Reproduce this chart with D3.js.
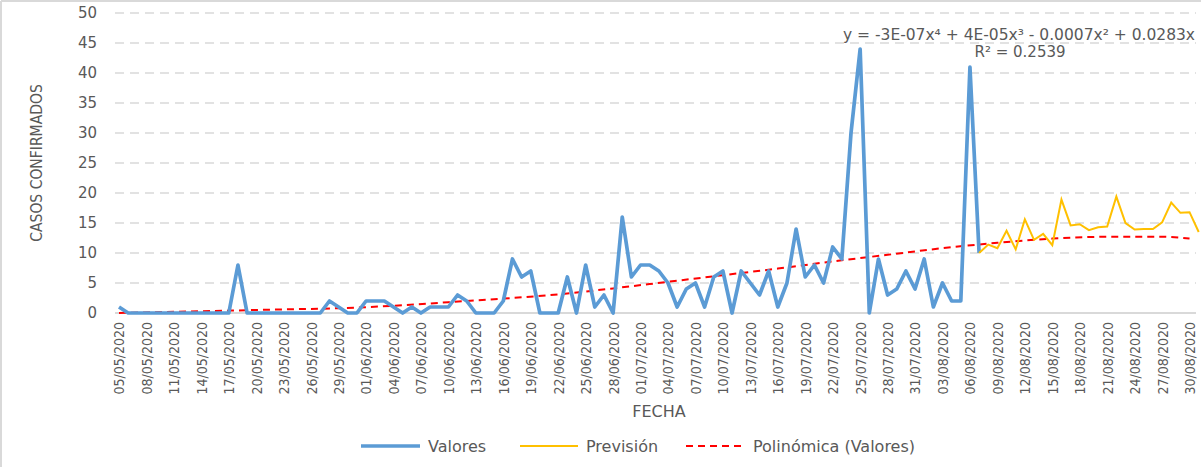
<!DOCTYPE html>
<html>
<head>
<meta charset="utf-8">
<script src="https://cdn.jsdelivr.net/npm/d3@7"></script>
<style>
body { margin: 0; background: #fff; }
text { font-family: "DejaVu Sans", sans-serif; fill: #595959; }
</style>
</head>
<body>
<svg id="chart" width="1201" height="467"></svg>
<script>
// categories: one per day, 05/05/2020 .. 31/08/2020
const fechas = d3.timeDay.range(new Date(2020, 4, 5), new Date(2020, 8, 1));

// casos confirmados, 05/05 .. 07/08
const valores = [
	1, 0, 0, 0, 0, 0, 0, 0, 0, 0, 0, 0, 0, 8, 0, 0, 0, 0, 0, 0,
	0, 0, 0, 2, 1, 0, 0, 2, 2, 2, 1, 0, 1, 0, 1, 1, 1, 3, 2, 0,
	0, 0, 2, 9, 6, 7, 0, 0, 0, 6, 0, 8, 1, 3, 0, 16, 6, 8, 8, 7,
	5, 1, 4, 5, 1, 6, 7, 0, 7, 5, 3, 7, 1, 5, 14, 6, 8, 5, 11, 9,
	30, 44, 0, 9, 3, 4, 7, 4, 9, 1, 5, 2, 2, 41, 10
];

// previsión, 07/08 .. 31/08
const prevision = [
	10, 11.4, 10.8, 13.7, 10.6, 15.6, 12.2, 13.2, 11.3, 18.9,
	14.6, 14.8, 13.8, 14.3, 14.4, 19.4, 15, 13.9, 14, 14,
	15.1, 18.4, 16.7, 16.8, 13.5
];
const inicioPrevision = 94;

// polinómica (valores) at these day indexes
const tendenciaDia = [0, 6, 12, 18, 24, 30, 36, 42, 48, 54, 60, 66, 72, 78, 84, 90, 96, 102, 108, 114, 117];
const tendencia = [0, 0.2, 0.4, 0.6, 0.8, 1.2, 1.8, 2.4, 3.1, 4.1, 5.2, 6.3, 7.4, 8.6, 9.7, 10.8, 11.7, 12.4, 12.7, 12.7, 12.4];

const yTicks = [0, 5, 10, 15, 20, 25, 30, 35, 40, 45, 50];
const ecuacion = "y = -3E-07x\u2074 + 4E-05x\u00b3 - 0.0007x\u00b2 + 0.0283x";
const r2 = "R\u00b2 = 0.2539";

const svg = d3.select("#chart");
const plotLeft = 115, plotRight = 1196;

const x = d3.scalePoint()
	.domain(d3.range(fechas.length))
	.range([119, 1198.7]);
const y = d3.scaleLinear().domain([0, 50]).range([313, 13]);

const fmt = d3.timeFormat("%d/%m/%Y");

// frame (only top and left edges are visible in the crop)
svg.append("line").attr("x1", 1).attr("x2", 1201).attr("y1", 1).attr("y2", 1)
	.attr("stroke", "#d9d9d9").attr("stroke-width", 2);
svg.append("line").attr("x1", 1).attr("x2", 1).attr("y1", 1).attr("y2", 467)
	.attr("stroke", "#d9d9d9").attr("stroke-width", 2);

// gridlines
svg.append("g")
	.selectAll("line")
	.data(yTicks.filter(d => d > 0))
	.join("line")
	.attr("x1", plotLeft).attr("x2", plotRight)
	.attr("y1", d => y(d)).attr("y2", d => y(d))
	.attr("stroke", "#d9d9d9")
	.attr("stroke-width", 1.3)
	.attr("stroke-dasharray", "9,6");

svg.append("line")
	.attr("x1", plotLeft).attr("x2", plotRight)
	.attr("y1", y(0)).attr("y2", y(0))
	.attr("stroke", "#d9d9d9").attr("stroke-width", 2);

// y axis
const yAxis = svg.append("g")
	.attr("transform", "translate(" + plotLeft + ",0)")
	.call(d3.axisLeft(y).tickValues(yTicks).tickSize(0).tickPadding(18));
yAxis.select(".domain").remove();
yAxis.selectAll("text")
	.style("font-family", "DejaVu Sans, sans-serif")
	.style("font-size", "15px")
	.attr("fill", "#595959");

// x axis
const xAxis = svg.append("g")
	.attr("transform", "translate(0," + y(0) + ")")
	.call(d3.axisBottom(x)
		.tickValues(d3.range(0, fechas.length, 3))
		.tickFormat(i => fmt(fechas[i]))
		.tickSize(0));
xAxis.select(".domain").remove();
xAxis.selectAll("text")
	.style("font-family", "'DejaVu Sans Condensed', 'DejaVu Sans', sans-serif")
	.style("font-size", "14px")
	.attr("fill", "#595959")
	.attr("text-anchor", "end")
	.attr("dy", "0.35em")
	.attr("transform", "translate(0,9) rotate(-90)")
	.attr("x", 0).attr("y", 0);

// axis titles
svg.append("text")
	.attr("transform", "translate(37,163) rotate(-90)")
	.attr("text-anchor", "middle")
	.attr("dy", "0.35em")
	.style("font-family", "'Liberation Sans Narrow', 'DejaVu Sans Condensed', sans-serif")
	.style("font-size", "15.5px")
	.text("CASOS CONFIRMADOS");

svg.append("text")
	.attr("x", 659).attr("y", 411)
	.attr("text-anchor", "middle")
	.attr("dy", "0.35em")
	.style("font-size", "16px")
	.text("FECHA");

// series
const line = d3.line().x(d => x(d[0])).y(d => y(d[1]));

svg.append("path")
	.datum(tendencia.map((v, i) => [tendenciaDia[i], v]))
	.attr("fill", "none")
	.attr("stroke", "#ff0000")
	.attr("stroke-width", 2)
	.attr("stroke-dasharray", "7,5")
	.attr("d", line.curve(d3.curveMonotoneX));

svg.append("path")
	.datum(valores.map((v, i) => [i, v]))
	.attr("fill", "none")
	.attr("stroke", "#5b9bd5")
	.attr("stroke-width", 3.7)
	.attr("stroke-linejoin", "round")
	.attr("d", d3.line().x(d => x(d[0])).y(d => y(d[1])));

svg.append("path")
	.datum(prevision.map((v, i) => [inicioPrevision + i, v]))
	.attr("fill", "none")
	.attr("stroke", "#ffc000")
	.attr("stroke-width", 2)
	.attr("d", d3.line().x(d => x(d[0])).y(d => y(d[1])));

// trend equation
svg.append("text")
	.attr("x", 843).attr("y", 35)
	.attr("dy", "0.35em")
	.attr("textLength", 352)
	.attr("lengthAdjust", "spacingAndGlyphs")
	.style("font-size", "15px")
	.text(ecuacion);
svg.append("text")
	.attr("x", 1020).attr("y", 52)
	.attr("dy", "0.35em")
	.attr("text-anchor", "middle")
	.style("font-size", "15px")
	.text(r2);

// legend
const legend = [
	{name: "Valores", color: "#5b9bd5", width: 3.5, dash: null, x1: 361, x2: 420},
	{name: "Previsión", color: "#ffc000", width: 2, dash: null, x1: 520, x2: 578},
	{name: "Polinómica (Valores)", color: "#ff0000", width: 2, dash: "7,5", x1: 686, x2: 745}
];
const lg = svg.append("g").attr("transform", "translate(0,446)");
legend.forEach(d => {
	lg.append("line")
		.attr("x1", d.x1).attr("x2", d.x2)
		.attr("stroke", d.color).attr("stroke-width", d.width)
		.attr("stroke-dasharray", d.dash);
	lg.append("text")
		.attr("x", d.x2 + 8)
		.attr("dy", "0.35em")
		.style("font-size", "16px")
		.text(d.name);
});
</script>
</body>
</html>
